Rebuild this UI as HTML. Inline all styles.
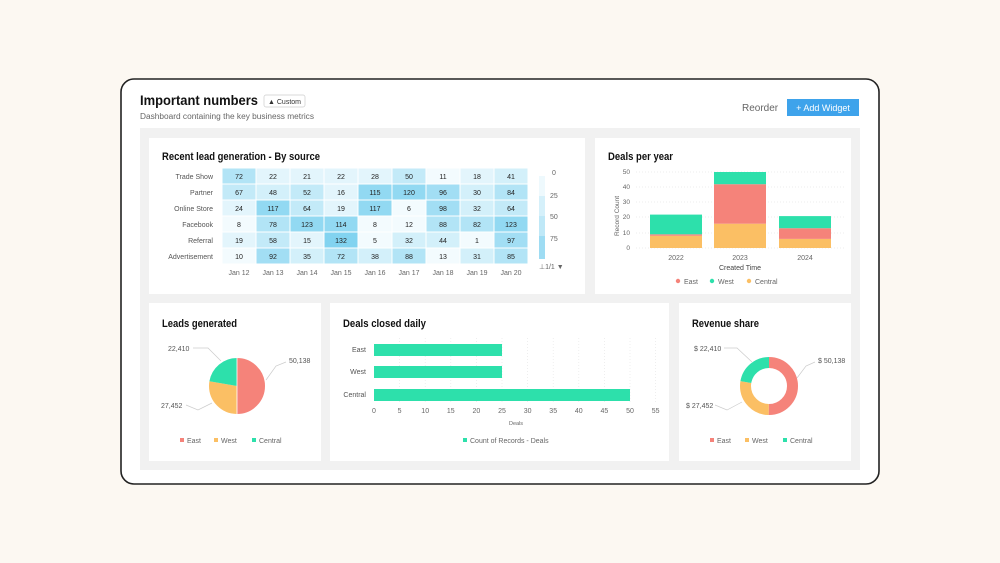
<!DOCTYPE html>
<html><head><meta charset="utf-8"><style>
html,body{margin:0;padding:0;background:#fcf8f2;}
svg{display:block;font-family:"Liberation Sans",sans-serif;}
.t{font-size:7px;fill:#444;text-anchor:middle}
.l{font-size:7px;fill:#555;text-anchor:end}
.h{font-size:11px;font-weight:bold;fill:#111}
</style></head><body>
<svg width="1000" height="563" viewBox="0 0 1000 563">
<rect width="1000" height="563" fill="#fcf8f2"/>
<rect x="121" y="79" width="758" height="405" rx="13" fill="#fff" stroke="#222" stroke-width="1.6"/>
<text x="140" y="105" style="font-size:13.5px;font-weight:bold" fill="#111" textLength="118" lengthAdjust="spacingAndGlyphs">Important numbers</text>
<rect x="264" y="95" width="41" height="12" rx="2" fill="#fff" stroke="#ccc" stroke-width="0.7"/>
<text x="268" y="104" style="font-size:7px" fill="#333">▲ Custom</text>
<text x="140" y="119" style="font-size:8px" fill="#666" textLength="174" lengthAdjust="spacingAndGlyphs">Dashboard containing the key business metrics</text>
<text x="742" y="111" style="font-size:10px" fill="#666">Reorder</text>
<rect x="787" y="99" width="72" height="17" fill="#3ea3eb"/>
<text x="823" y="111" style="font-size:9px;text-anchor:middle" fill="#fff">+ Add Widget</text>
<rect x="140" y="128" width="720" height="342" fill="#f1f1f1"/>
<rect x="149" y="138" width="436" height="156" fill="#fff"/>
<rect x="595" y="138" width="256" height="156" fill="#fff"/>
<rect x="149" y="303" width="172" height="158" fill="#fff"/>
<rect x="330" y="303" width="339" height="158" fill="#fff"/>
<rect x="679" y="303" width="172" height="158" fill="#fff"/>

<text x="162" y="160" class="h" textLength="158" lengthAdjust="spacingAndGlyphs">Recent lead generation - By source</text>
<g class="l"><text x="213" y="179">Trade Show</text><text x="213" y="195">Partner</text><text x="213" y="211">Online Store</text><text x="213" y="227">Facebook</text><text x="213" y="243">Referral</text><text x="213" y="259">Advertisement</text></g>
<g stroke="#fff" stroke-width="1">
<g transform="translate(0,168)"><rect x="222" width="34" height="16" fill="#b2e4f6"/><rect x="256" width="34" height="16" fill="#e3f5fc"/><rect x="290" width="34" height="16" fill="#e3f5fc"/><rect x="324" width="34" height="16" fill="#e3f5fc"/><rect x="358" width="34" height="16" fill="#e3f5fc"/><rect x="392" width="34" height="16" fill="#c3eaf8"/><rect x="426" width="34" height="16" fill="#f3fbfe"/><rect x="460" width="34" height="16" fill="#e3f5fc"/><rect x="494" width="34" height="16" fill="#d3f0fa"/></g>
<g transform="translate(0,184)"><rect x="222" width="34" height="16" fill="#c3eaf8"/><rect x="256" width="34" height="16" fill="#d3f0fa"/><rect x="290" width="34" height="16" fill="#c3eaf8"/><rect x="324" width="34" height="16" fill="#e3f5fc"/><rect x="358" width="34" height="16" fill="#92d9f2"/><rect x="392" width="34" height="16" fill="#92d9f2"/><rect x="426" width="34" height="16" fill="#a2def4"/><rect x="460" width="34" height="16" fill="#d3f0fa"/><rect x="494" width="34" height="16" fill="#b2e4f6"/></g>
<g transform="translate(0,200)"><rect x="222" width="34" height="16" fill="#e3f5fc"/><rect x="256" width="34" height="16" fill="#92d9f2"/><rect x="290" width="34" height="16" fill="#c3eaf8"/><rect x="324" width="34" height="16" fill="#e3f5fc"/><rect x="358" width="34" height="16" fill="#92d9f2"/><rect x="392" width="34" height="16" fill="#f3fbfe"/><rect x="426" width="34" height="16" fill="#a2def4"/><rect x="460" width="34" height="16" fill="#d3f0fa"/><rect x="494" width="34" height="16" fill="#c3eaf8"/></g>
<g transform="translate(0,216)"><rect x="222" width="34" height="16" fill="#f3fbfe"/><rect x="256" width="34" height="16" fill="#b2e4f6"/><rect x="290" width="34" height="16" fill="#92d9f2"/><rect x="324" width="34" height="16" fill="#92d9f2"/><rect x="358" width="34" height="16" fill="#f3fbfe"/><rect x="392" width="34" height="16" fill="#f3fbfe"/><rect x="426" width="34" height="16" fill="#b2e4f6"/><rect x="460" width="34" height="16" fill="#b2e4f6"/><rect x="494" width="34" height="16" fill="#92d9f2"/></g>
<g transform="translate(0,232)"><rect x="222" width="34" height="16" fill="#e3f5fc"/><rect x="256" width="34" height="16" fill="#c3eaf8"/><rect x="290" width="34" height="16" fill="#e3f5fc"/><rect x="324" width="34" height="16" fill="#82d3f0"/><rect x="358" width="34" height="16" fill="#f3fbfe"/><rect x="392" width="34" height="16" fill="#d3f0fa"/><rect x="426" width="34" height="16" fill="#d3f0fa"/><rect x="460" width="34" height="16" fill="#f3fbfe"/><rect x="494" width="34" height="16" fill="#a2def4"/></g>
<g transform="translate(0,248)"><rect x="222" width="34" height="16" fill="#f3fbfe"/><rect x="256" width="34" height="16" fill="#a2def4"/><rect x="290" width="34" height="16" fill="#d3f0fa"/><rect x="324" width="34" height="16" fill="#b2e4f6"/><rect x="358" width="34" height="16" fill="#d3f0fa"/><rect x="392" width="34" height="16" fill="#b2e4f6"/><rect x="426" width="34" height="16" fill="#f3fbfe"/><rect x="460" width="34" height="16" fill="#d3f0fa"/><rect x="494" width="34" height="16" fill="#b2e4f6"/></g>
</g>
<g class="t" style="fill:#222">
<g transform="translate(0,179)"><text x="239">72</text><text x="273">22</text><text x="307">21</text><text x="341">22</text><text x="375">28</text><text x="409">50</text><text x="443">11</text><text x="477">18</text><text x="511">41</text></g>
<g transform="translate(0,195)"><text x="239">67</text><text x="273">48</text><text x="307">52</text><text x="341">16</text><text x="375">115</text><text x="409">120</text><text x="443">96</text><text x="477">30</text><text x="511">84</text></g>
<g transform="translate(0,211)"><text x="239">24</text><text x="273">117</text><text x="307">64</text><text x="341">19</text><text x="375">117</text><text x="409">6</text><text x="443">98</text><text x="477">32</text><text x="511">64</text></g>
<g transform="translate(0,227)"><text x="239">8</text><text x="273">78</text><text x="307">123</text><text x="341">114</text><text x="375">8</text><text x="409">12</text><text x="443">88</text><text x="477">82</text><text x="511">123</text></g>
<g transform="translate(0,243)"><text x="239">19</text><text x="273">58</text><text x="307">15</text><text x="341">132</text><text x="375">5</text><text x="409">32</text><text x="443">44</text><text x="477">1</text><text x="511">97</text></g>
<g transform="translate(0,259)"><text x="239">10</text><text x="273">92</text><text x="307">35</text><text x="341">72</text><text x="375">38</text><text x="409">88</text><text x="443">13</text><text x="477">31</text><text x="511">85</text></g>
</g>
<g class="t" style="fill:#666"><text x="239" y="275">Jan 12</text><text x="273" y="275">Jan 13</text><text x="307" y="275">Jan 14</text><text x="341" y="275">Jan 15</text><text x="375" y="275">Jan 16</text><text x="409" y="275">Jan 17</text><text x="443" y="275">Jan 18</text><text x="477" y="275">Jan 19</text><text x="511" y="275">Jan 20</text></g>
<rect x="539" y="176" width="6" height="20" fill="#eef9fd"/><rect x="539" y="196" width="6" height="20" fill="#d5f0fa"/><rect x="539" y="216" width="6" height="20" fill="#bfe8f7"/><rect x="539" y="236" width="6" height="23" fill="#9edcf3"/>
<g style="font-size:7px" fill="#666"><text x="552" y="175">0</text><text x="550" y="198">25</text><text x="550" y="219">50</text><text x="550" y="241">75</text><text x="539" y="269">⊥1/1 ▼</text></g>

<text x="608" y="160" class="h" textLength="65" lengthAdjust="spacingAndGlyphs">Deals per year</text>
<g stroke="#e6e6e6" stroke-width="0.8" stroke-dasharray="1,2"><line x1="636" x2="845" y1="172" y2="172"/><line x1="636" x2="845" y1="187" y2="187"/><line x1="636" x2="845" y1="202" y2="202"/><line x1="636" x2="845" y1="217" y2="217"/><line x1="636" x2="845" y1="233" y2="233"/><line x1="636" x2="845" y1="248" y2="248"/></g>
<g class="l" style="font-size:6.5px;fill:#666"><text x="630" y="174">50</text><text x="630" y="189">40</text><text x="630" y="204">30</text><text x="630" y="219">20</text><text x="630" y="235">10</text><text x="630" y="250">0</text></g>
<text transform="translate(619,216) rotate(-90)" style="font-size:6.5px;text-anchor:middle" fill="#666">Record Count</text>
<rect x="650" y="235.8" width="52" height="12.2" fill="#fbbf64"/><rect x="650" y="234.3" width="52" height="1.5" fill="#f5837a"/><rect x="650" y="214.6" width="52" height="19.7" fill="#2de0ab"/>
<rect x="714" y="223.7" width="52" height="24.3" fill="#fbbf64"/><rect x="714" y="184.2" width="52" height="39.5" fill="#f5837a"/><rect x="714" y="172" width="52" height="12.2" fill="#2de0ab"/>
<rect x="779" y="238.9" width="52" height="9.1" fill="#fbbf64"/><rect x="779" y="228.2" width="52" height="10.7" fill="#f5837a"/><rect x="779" y="216.1" width="52" height="12.1" fill="#2de0ab"/>
<g class="t" style="fill:#666"><text x="676" y="260">2022</text><text x="740" y="260">2023</text><text x="805" y="260">2024</text><text x="740" y="270" style="fill:#444">Created Time</text></g>
<g style="font-size:7px" fill="#666"><circle cx="678" cy="281" r="2.2" fill="#f5837a"/><text x="684" y="284">East</text><circle cx="712" cy="281" r="2.2" fill="#2de0ab"/><text x="718" y="284">West</text><circle cx="749" cy="281" r="2.2" fill="#fbbf64"/><text x="755" y="284">Central</text></g>

<text x="162" y="327" class="h" textLength="75" lengthAdjust="spacingAndGlyphs">Leads generated</text>
<g transform="rotate(-90 237 386)">
<circle cx="237" cy="386" r="14" fill="none" stroke="#f5837a" stroke-width="28" stroke-dasharray="44.1 100"/>
<circle cx="237" cy="386" r="14" fill="none" stroke="#fbbf64" stroke-width="28" stroke-dasharray="0 44.1 24.15 100"/>
<circle cx="237" cy="386" r="14" fill="none" stroke="#2de0ab" stroke-width="28" stroke-dasharray="0 68.25 19.8 100"/>
</g>
<line x1="237" y1="358" x2="237" y2="414" stroke="#fff" stroke-width="0.8"/>
<g fill="none" stroke="#ccc" stroke-width="0.7"><polyline points="193,348 208,348 221,361"/><polyline points="286,362 276,366 266,380"/><polyline points="186,405 198,410 212,403"/></g>
<g style="font-size:7px" fill="#555"><text x="168" y="351">22,410</text><text x="289" y="363">50,138</text><text x="161" y="408">27,452</text></g>
<g style="font-size:7px" fill="#666"><rect x="180" y="438" width="4" height="4" fill="#f5837a"/><text x="187" y="443">East</text><rect x="214" y="438" width="4" height="4" fill="#fbbf64"/><text x="221" y="443">West</text><rect x="252" y="438" width="4" height="4" fill="#2de0ab"/><text x="259" y="443">Central</text></g>

<text x="343" y="327" class="h" textLength="83" lengthAdjust="spacingAndGlyphs">Deals closed daily</text>
<g stroke="#e8e8e8" stroke-width="0.7" stroke-dasharray="1,2"><line x1="399.6" x2="399.6" y1="338" y2="402"/><line x1="425.2" x2="425.2" y1="338" y2="402"/><line x1="450.8" x2="450.8" y1="338" y2="402"/><line x1="476.4" x2="476.4" y1="338" y2="402"/><line x1="502" x2="502" y1="338" y2="402"/><line x1="527.6" x2="527.6" y1="338" y2="402"/><line x1="553.2" x2="553.2" y1="338" y2="402"/><line x1="578.8" x2="578.8" y1="338" y2="402"/><line x1="604.4" x2="604.4" y1="338" y2="402"/><line x1="630" x2="630" y1="338" y2="402"/><line x1="655.6" x2="655.6" y1="338" y2="402"/></g>
<rect x="374" y="344" width="128" height="12" fill="#2de0ab"/><rect x="374" y="366" width="128" height="12" fill="#2de0ab"/><rect x="374" y="389" width="256" height="12" fill="#2de0ab"/>
<g class="l" style="fill:#555"><text x="366" y="352">East</text><text x="366" y="374">West</text><text x="366" y="397">Central</text></g>
<g class="t" style="fill:#666"><text x="374" y="413">0</text><text x="399.6" y="413">5</text><text x="425.2" y="413">10</text><text x="450.8" y="413">15</text><text x="476.4" y="413">20</text><text x="502" y="413">25</text><text x="527.6" y="413">30</text><text x="553.2" y="413">35</text><text x="578.8" y="413">40</text><text x="604.4" y="413">45</text><text x="630" y="413">50</text><text x="655.6" y="413">55</text><text x="516" y="425" style="font-size:5.5px">Deals</text></g>
<rect x="463" y="438" width="4" height="4" fill="#2de0ab"/><text x="470" y="443" style="font-size:7px" fill="#666">Count of Records - Deals</text>

<text x="692" y="327" class="h" textLength="67" lengthAdjust="spacingAndGlyphs">Revenue share</text>
<g transform="rotate(-90 769 386)">
<circle cx="769" cy="386" r="23.5" fill="none" stroke="#f5837a" stroke-width="11" stroke-dasharray="74 200"/>
<circle cx="769" cy="386" r="23.5" fill="none" stroke="#fbbf64" stroke-width="11" stroke-dasharray="0 74 40.5 200"/>
<circle cx="769" cy="386" r="23.5" fill="none" stroke="#2de0ab" stroke-width="11" stroke-dasharray="0 114.5 33.2 200"/>
</g>
<g fill="none" stroke="#ccc" stroke-width="0.7"><polyline points="724,348 737,348 752,362"/><polyline points="815,362 806,366 797,378"/><polyline points="715,405 727,410 742,402"/></g>
<g style="font-size:7px" fill="#555"><text x="694" y="351">$ 22,410</text><text x="818" y="363">$ 50,138</text><text x="686" y="408">$ 27,452</text></g>
<g style="font-size:7px" fill="#666"><rect x="710" y="438" width="4" height="4" fill="#f5837a"/><text x="717" y="443">East</text><rect x="745" y="438" width="4" height="4" fill="#fbbf64"/><text x="752" y="443">West</text><rect x="783" y="438" width="4" height="4" fill="#2de0ab"/><text x="790" y="443">Central</text></g>
</svg>
</body></html>
